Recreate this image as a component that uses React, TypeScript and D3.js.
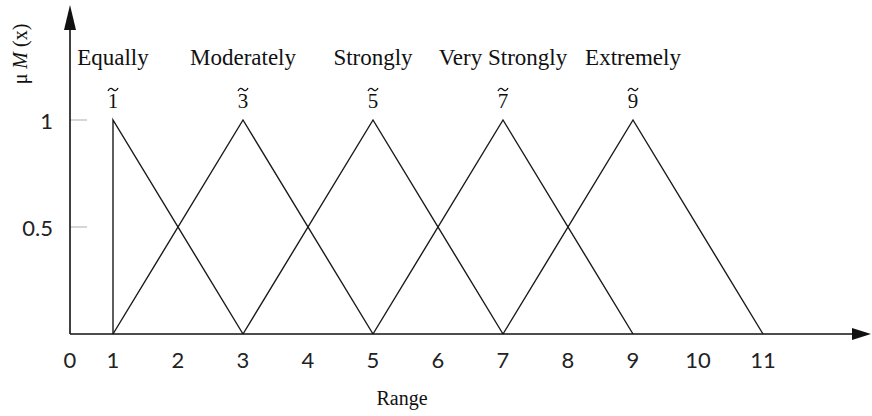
import * as d3 from 'd3';
import React from 'react';

// linguistic grades of the fuzzy scale and their triangular numbers (l, m, u)
const grades = ['Equally', 'Moderately', 'Strongly', 'Very Strongly', 'Extremely'];
const fuzzyNames = ['1', '3', '5', '7', '9'];
const lowers = [1, 1, 3, 5, 7];
const modes = [1, 3, 5, 7, 9];
const uppers = [3, 5, 7, 9, 11];

// axis ticks
const xTicks = [1, 2, 3, 4, 5, 6, 7, 8, 9, 10, 11];
const yTicks = [0.5, 1];

const width = 872;
const height = 416;
const originX = 70;
const originY = 334;

// small tilde accent drawn over a fuzzy number
const tildePath = (cx: number, cy: number) =>
  `M${cx - 5},${cy + 1.5} C${cx - 3.5},${cy - 2} ${cx - 1.5},${cy - 1.5} ${cx},${cy} S${cx + 3.5},${cy + 2} ${cx + 5},${cy - 1.5}`;

const App = () => {
  const x = d3.scaleLinear().domain([1, 11]).range([113, 763]);
  const y = d3.scaleLinear().domain([0, 1]).range([originY, 120]);

  const line = d3.line<[number, number]>()
    .x((d) => x(d[0]))
    .y((d) => y(d[1]));

  const triangles = modes.map((m, i) => [
    [lowers[i], 0],
    [m, 1],
    [uppers[i], 0],
  ] as [number, number][]);

  const serif = '"Liberation Serif", "Times New Roman", serif';
  const sans = 'Lato, "Open Sans", sans-serif';

  return (
    <svg
      width={width}
      height={height}
      style={{ position: 'absolute', left: 0, top: 0, background: '#fff' }}
    >
      {/* y tick marks and labels */}
      {yTicks.map((t) => (
        <g key={t}>
          <line x1={originX} x2={originX + 17} y1={y(t)} y2={y(t)} stroke="#bbb" strokeWidth={1.2} />
          <text x={53} y={y(t) + 9} textAnchor="end" fontFamily={sans} fontSize={22} fill="#222">
            {t}
          </text>
        </g>
      ))}

      {/* membership triangles */}
      {triangles.map((pts, i) => (
        <path key={i} d={line(pts) ?? ''} fill="none" stroke="#1a1a1a" strokeWidth={1.4} />
      ))}

      {/* axes with arrow heads */}
      <line x1={originX} x2={originX} y1={originY} y2={22} stroke="#111" strokeWidth={1.6} />
      <path d={`M${originX - 6},${30} L${originX},${5} L${originX + 6},${30} Z`} fill="#111" />
      <line x1={originX} x2={856} y1={originY} y2={originY} stroke="#111" strokeWidth={1.6} />
      <path d={`M${852},${originY - 6} L${871},${originY} L${852},${originY + 6} Z`} fill="#111" />

      {/* x tick labels */}
      <text x={originX} y={368} textAnchor="middle" fontFamily={sans} fontSize={22} fill="#222">0</text>
      {xTicks.map((t) => (
        <text key={t} x={x(t)} y={368} textAnchor="middle" fontFamily={sans} fontSize={22} fill="#222">
          {t}
        </text>
      ))}

      {/* grade names and fuzzy numbers with tilde */}
      {grades.map((g, i) => (
        <g key={g}>
          <text x={x(modes[i])} y={65} textAnchor="middle" fontFamily={serif} fontSize={23} fill="#111">
            {g}
          </text>
          <text x={x(modes[i])} y={108} textAnchor="middle" fontFamily={serif} fontSize={21} fill="#111">
            {fuzzyNames[i]}
          </text>
          <path d={tildePath(x(modes[i]), 89.5)} fill="none" stroke="#111" strokeWidth={1.3} />
        </g>
      ))}

      {/* axis titles */}
      <text x={402} y={405} textAnchor="middle" fontFamily={serif} fontSize={20} fill="#111">Range</text>
      <text
        transform="translate(27,54) rotate(-90)"
        textAnchor="middle"
        fontFamily={serif}
        fontSize={20}
        fill="#111"
      >
        μ<tspan fontStyle="italic"> M</tspan> (x)
      </text>
    </svg>
  );
};

export default App;
